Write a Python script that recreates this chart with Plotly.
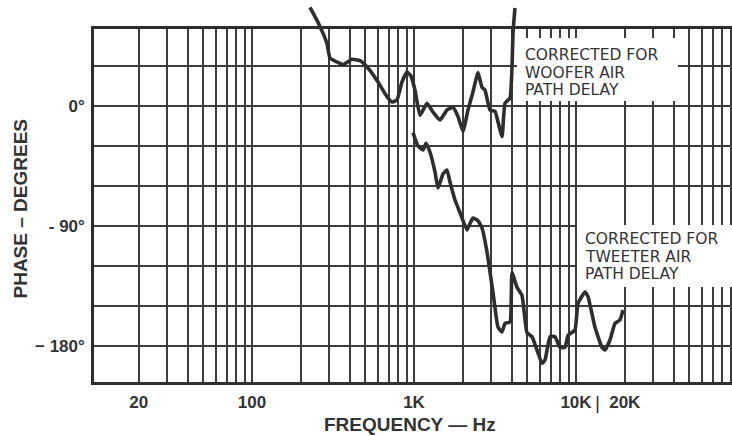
import math
import plotly.graph_objects as go

# ---- data ----
woofer_freq = [228, 255, 290, 303, 335, 365, 414, 464, 520, 600, 681, 732, 785, 843, 905, 958,
               1014, 1089, 1203, 1310, 1447, 1598, 1741, 1870, 2006, 2154, 2312, 2483, 2630,
               2742, 2944, 3162, 3302, 3494, 3646, 3914, 4027, 4085, 4200]
woofer_phase = [74, 63, 47, 36, 33, 31, 35, 34, 28.5, 18, 7, 3, 4.5, 18, 25.5, 22.5,
                12, -7, 2, -4.5, -10.5, -3, -1, -8, -19, -3, 10.5, 25, 14,
                12, -3, -4, -12, -23, 2, 6, 29, 55, 73.5]

tweeter_freq = [986, 1058, 1137, 1186, 1255, 1348, 1407, 1510, 1598, 1668, 1791, 1922, 2124,
                2218, 2312, 2483, 2630, 2822, 3074, 3302, 3494, 3646, 3914, 4027, 4323, 4641,
                4982, 5348, 5742, 6164, 6438, 6911, 7419, 7964, 8550, 8929, 9855, 10287, 11361,
                11862, 13095, 14457, 15096, 16207, 17400, 18679, 19502]
tweeter_phase = [-20, -30, -33, -28, -34.5, -49.5, -61.5, -51, -48, -57, -70.5, -80, -93,
                 -88, -84, -86, -91.5, -109.5, -140, -166, -169.5, -163, -162, -125, -136, -142,
                 -170, -173, -183, -193, -190.5, -173, -173, -181, -181, -172, -168, -148, -139.5,
                 -143, -166, -181, -183, -175.5, -163, -160.5, -153]

x_grid = [m * 10 ** e for e in range(1, 5) for m in range(1, 10) if m * 10 ** e >= 20]
x_labels = {20: "20", 100: "100", 1000: "1K", 10000: "10K", 20000: "20K"}
y_grid = [-180, -150, -120, -90, -60, -30, 0, 30]
y_labels = {0: "0°", -90: "- 90°", -180: "− 180°"}

woofer_label = ["CORRECTED FOR", "WOOFER AIR", "PATH DELAY"]
tweeter_label = ["CORRECTED FOR", "TWEETER AIR", "PATH DELAY"]

# ---- layout geometry ----
W, H = 732, 436
ML, MR, MT, MB = 94, 0, 0, 54
PW, PH = W - ML - MR, H - MT - MB
frame_top_px = 29
x_range = [math.log10(10.59), math.log10(91800)]
y_lo, y_hi = -207, 57.75
px_per_deg = (PH - frame_top_px) / (y_hi - y_lo)
y2_hi = y_hi + frame_top_px / px_per_deg

def px(xp):
    return (xp - ML) / PW

def py(yp):
    return (PH - yp) / PH

ink = "#2e2e2e"
grid_c = "#3c3c3c"

fig = go.Figure()
# empty trace so the grid subplot (x, y) is created and drawn
fig.add_trace(go.Scatter(x=[], y=[], xaxis="x", yaxis="y", mode="lines",
                         hoverinfo="skip", showlegend=False))
for f, p in [(woofer_freq, woofer_phase), (tweeter_freq, tweeter_phase)]:
    fig.add_trace(go.Scatter(x=f, y=p, mode="lines", xaxis="x2", yaxis="y2",
                             line=dict(color=ink, width=3.6, shape="spline", smoothing=0.4),
                             hoverinfo="skip", showlegend=False))

tick_font = dict(family="Liberation Sans", size=17, color="#333", weight="bold")
fig.update_layout(
    width=W, height=H,
    margin=dict(l=ML, r=MR, t=MT, b=MB),
    paper_bgcolor="white", plot_bgcolor="rgba(0,0,0,0)",
    showlegend=False,
    xaxis=dict(type="log", range=x_range, domain=[0, 1], anchor="y",
               tickmode="array", tickvals=x_grid,
               ticktext=[x_labels.get(v, "") for v in x_grid],
               showgrid=True, gridcolor=grid_c, gridwidth=1.6,
               showline=True, mirror=True, linecolor=ink, linewidth=2.5,
               ticks="", ticklabelstandoff=3, tickfont=tick_font, zeroline=False),
    yaxis=dict(range=[y_lo, y_hi], domain=[0, (PH - frame_top_px) / PH], anchor="x",
               tickmode="array", tickvals=y_grid,
               ticktext=[y_labels.get(v, "") for v in y_grid],
               showgrid=True, gridcolor=grid_c, gridwidth=1.6,
               showline=True, mirror=False, linecolor=ink, linewidth=2.5,
               ticks="", ticklabelstandoff=3, tickfont=tick_font, zeroline=False),
    xaxis2=dict(type="log", range=x_range, domain=[0, 1], anchor="y2", visible=False),
    yaxis2=dict(range=[y_lo, y2_hi], domain=[0, 1], anchor="x2", visible=False),
)

# white label backgrounds that interrupt the grid
fig.add_shape(type="rect", xref="paper", yref="paper", layer="above",
              x0=px(517), x1=px(678), y0=py(101), y1=py(38),
              fillcolor="white", line=dict(width=0))
fig.add_shape(type="rect", xref="paper", yref="paper", layer="above",
              x0=px(577), x1=1.0, y0=py(287), y1=py(225),
              fillcolor="white", line=dict(width=0))

lab_font = dict(family="DejaVu Sans", size=15.5, color="#333")
for i, t in enumerate(woofer_label):
    fig.add_annotation(text=t, xref="paper", yref="paper", x=px(523), y=py(55 + 17.5 * i),
                       xanchor="left", yanchor="middle", showarrow=False, font=lab_font)
for i, t in enumerate(tweeter_label):
    fig.add_annotation(text=t, xref="paper", yref="paper", x=px(583), y=py(239.5 + 17 * i),
                       xanchor="left", yanchor="middle", showarrow=False, font=lab_font)

fig.add_annotation(text="|", xref="paper", yref="paper", x=px(597), y=py(402),
                   xanchor="center", yanchor="middle", showarrow=False,
                   font=dict(family="Liberation Sans", size=19, color="#333"))
fig.add_annotation(text="FREQUENCY — Hz", xref="paper", yref="paper", x=px(410), y=py(425),
                   xanchor="center", yanchor="middle", showarrow=False,
                   font=dict(family="Liberation Sans", size=19, color="#333", weight="bold"))
fig.add_annotation(text="PHASE – DEGREES", xref="paper", yref="paper", x=px(19.5), y=py(209),
                   xanchor="center", yanchor="middle", showarrow=False, textangle=-90,
                   font=dict(family="Liberation Sans", size=19, color="#333", weight="bold"))

fig.write_html("out.html", config={"displayModeBar": False},
               post_script="document.body.style.margin='0';document.body.style.overflow='hidden';")
